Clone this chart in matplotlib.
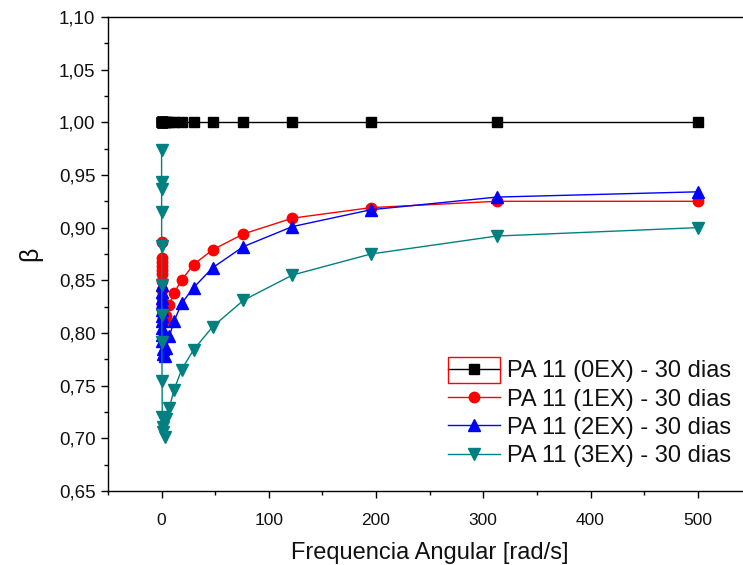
import numpy as np
import matplotlib
matplotlib.use("Agg")
import matplotlib.pyplot as plt
from matplotlib.ticker import MultipleLocator, FuncFormatter
from matplotlib.patches import Rectangle

plt.rcParams['font.family'] = ['Liberation Sans', 'DejaVu Sans']

# frequencia angular (rad/s)
freq = [0.0101, 0.0162, 0.026, 0.041, 0.066, 0.106, 0.17, 0.27, 0.43, 0.69,
        1.11, 1.78, 2.84, 4.55, 7.28, 11.6, 18.6, 29.8, 47.7, 76.3,
        122.0, 195.3, 312.5, 500.0]

beta_0ex = [1.0] * len(freq)
beta_1ex = [0.886, 0.871, 0.867, 0.864, 0.860, 0.856, 0.849, 0.841, 0.833, 0.826,
            0.820, 0.814, 0.812, 0.816, 0.827, 0.838, 0.850, 0.865, 0.879, 0.894,
            0.909, 0.919, 0.925, 0.925]
beta_2ex = [0.846, 0.839, 0.833, 0.828, 0.822, 0.816, 0.811, 0.805, 0.798, 0.792,
            0.785, 0.780, 0.778, 0.786, 0.797, 0.811, 0.828, 0.843, 0.862, 0.882,
            0.901, 0.917, 0.929, 0.934]
beta_3ex = [0.974, 0.943, 0.937, 0.915, 0.883, 0.846, 0.817, 0.791, 0.754, 0.720,
            0.711, 0.706, 0.701, 0.718, 0.729, 0.746, 0.765, 0.784, 0.806, 0.831,
            0.855, 0.875, 0.892, 0.900]

labels = ["PA 11 (0EX) - 30 dias", "PA 11 (1EX) - 30 dias",
          "PA 11 (2EX) - 30 dias", "PA 11 (3EX) - 30 dias"]

fig = plt.figure(figsize=(7.43, 5.65), dpi=100)
ax = fig.add_axes([0.1453, 0.131, 0.866, 0.839])

ax.plot(freq, beta_0ex, "-s", color="black", lw=1, ms=7.3, label=labels[0], clip_on=False)
ax.plot(freq, beta_1ex, "-o", color="red", lw=1, ms=7.5, label=labels[1])
ax.plot(freq, beta_2ex, "-^", color="blue", lw=1, ms=8.5, label=labels[2])
ax.plot(freq, beta_3ex, "-v", color="#008080", lw=1, ms=8.5, label=labels[3])

ax.set_xlim(-50, 550)
ax.set_ylim(0.65, 1.10)
ax.xaxis.set_major_locator(MultipleLocator(100))
ax.xaxis.set_minor_locator(MultipleLocator(50))
ax.yaxis.set_major_locator(MultipleLocator(0.05))
ax.yaxis.set_minor_locator(MultipleLocator(0.025))
ax.yaxis.set_major_formatter(FuncFormatter(lambda v, p: ("%.2f" % v).replace(".", ",")))

ax.spines["right"].set_visible(False)
for s in ax.spines.values():
    s.set_linewidth(1.0)
ax.tick_params(which="both", direction="out", top=False, right=False, width=1, color="black")
ax.tick_params(which="major", length=5, labelsize=12.5, labelcolor="#111111")
ax.tick_params(which="minor", length=3)
ax.tick_params(axis="x", which="major", pad=11)
ax.tick_params(axis="y", which="major", pad=4, labelsize=13.5)

ax.set_xlabel("Frequencia Angular [rad/s]", fontsize=17, color="#111111", labelpad=10)
ax.set_ylabel("β", fontsize=18, color="#111111", labelpad=12)

leg = ax.legend(loc="upper left", bbox_to_anchor=(0.603, 0.362), bbox_transform=fig.transFigure,
                frameon=False, fontsize=17, handlelength=2.2, handletextpad=0.3,
                labelspacing=0.26, borderpad=0, borderaxespad=0)
for t in leg.get_texts():
    t.set_color("#111111")

# caixa vermelha em volta do primeiro item da legenda
fig.patches.append(Rectangle((0.603, 0.322), 0.070, 0.046, transform=fig.transFigure,
                             fill=False, edgecolor="red", lw=1))

fig.savefig("out.png", dpi=100)
